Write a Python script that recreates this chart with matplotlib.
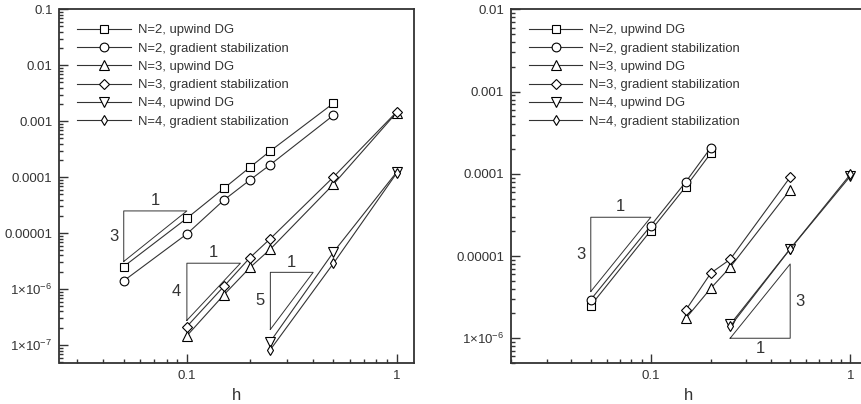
import numpy as np
import matplotlib
matplotlib.use("Agg")
import matplotlib.pyplot as plt
from matplotlib.ticker import FixedLocator, FuncFormatter, NullFormatter

plt.rcParams['font.family'] = ['Liberation Sans', 'DejaVu Sans']
plt.rcParams['mathtext.default'] = 'regular'

labels = ["N=2, upwind DG", "N=2, gradient stabilization",
          "N=3, upwind DG", "N=3, gradient stabilization",
          "N=4, upwind DG", "N=4, gradient stabilization"]

# --- left panel ---
h2_left = [0.05, 0.1, 0.15, 0.2, 0.25, 0.5]
h3_left = [0.1, 0.15, 0.2, 0.25, 0.5, 1.0]
h4_left = [0.25, 0.5, 1.0]
n2_up_left = [2.54e-6, 1.85e-5, 6.3e-5, 1.51e-4, 2.95e-4, 2.1e-3]
n2_gs_left = [1.41e-6, 9.7e-6, 3.9e-5, 8.95e-5, 1.68e-4, 1.28e-3]
n3_up_left = [1.47e-7, 7.9e-7, 2.44e-6, 5.2e-6, 7.5e-5, 1.43e-3]
n3_gs_left = [2.15e-7, 1.12e-6, 3.67e-6, 8.0e-6, 1.01e-4, 1.47e-3]
n4_up_left = [1.16e-7, 4.6e-6, 1.23e-4]
n4_gs_left = [8.3e-8, 2.9e-6, 1.18e-4]

# --- right panel ---
h2_right = [0.05, 0.1, 0.15, 0.2]
h3_right = [0.15, 0.2, 0.25, 0.5]
h4_right = [0.25, 0.5, 1.0]
n2_up_right = [2.5e-6, 2.04e-5, 7.0e-5, 1.78e-4]
n2_gs_right = [2.95e-6, 2.34e-5, 8.0e-5, 2.08e-4]
n3_up_right = [1.75e-6, 4.06e-6, 7.3e-6, 6.4e-5]
n3_gs_right = [2.21e-6, 6.2e-6, 9.1e-6, 9.1e-5]
n4_up_right = [1.47e-6, 1.22e-5, 9.3e-5]
n4_gs_right = [1.39e-6, 1.22e-5, 9.8e-5]

# slope triangles: (h_start, h_end, corner error, slope, upper?)
tri_left = [(0.05, 0.1, 2.5e-5, 3, True),
            (0.1, 0.18, 2.91e-6, 4, True),
            (0.25, 0.4, 2.0e-6, 5, True)]
tri_right = [(0.05, 0.1, 2.96e-5, 3, True),
             (0.25, 0.5, 1.0e-6, 3, False)]

markers = ['s', 'o', '^', 'D', 'v', 'd']
msizes = [5.8, 6.3, 7.2, 5.5, 7.2, 5.6]
ink = '#333333'


def ytick_fmt(v, pos):
    e = int(round(np.log10(v)))
    if e >= -5:
        return ('%.' + str(-e) + 'f') % v if e < 0 else '%g' % v
    return '1\u00d710$^{%d}$' % e


def decades(lo, hi, subs):
    out = []
    for e in range(int(np.floor(np.log10(lo))), int(np.ceil(np.log10(hi))) + 1):
        for s in subs:
            v = s * 10.0 ** e
            if lo <= v <= hi:
                out.append(v)
    return out


def draw_panel(ax, series, tris, xlim, ylim):
    for (h, e), m, ms, lab in zip(series, markers, msizes, labels):
        ax.plot(h, e, color=ink, lw=0.8, marker=m, ms=ms, mfc='white',
                mec='black', mew=0.8, label=lab)
    for h0, h1, ec, p, upper in tris:
        ratio = (h1 / h0) ** p
        if upper:
            xs = [h0, h0, h1, h0]
            ys = [ec / ratio, ec, ec, ec / ratio]
            ax.plot(xs, ys, color=ink, lw=0.7)
            ax.annotate('1', (np.sqrt(h0 * h1), ec), xytext=(0, 2),
                        textcoords='offset points', ha='center', va='bottom',
                        fontsize=12, color=ink)
            ax.annotate(str(p), (h0, ec / np.sqrt(ratio)), xytext=(-4, 0),
                        textcoords='offset points', ha='right', va='center',
                        fontsize=12, color=ink)
        else:
            xs = [h0, h1, h1, h0]
            ys = [ec, ec, ec * ratio, ec]
            ax.plot(xs, ys, color=ink, lw=0.7)
            ax.annotate('1', (np.sqrt(h0 * h1), ec), xytext=(0, -2),
                        textcoords='offset points', ha='center', va='top',
                        fontsize=12, color=ink)
            ax.annotate(str(p), (h1, ec * np.sqrt(ratio)), xytext=(4, 0),
                        textcoords='offset points', ha='left', va='center',
                        fontsize=12, color=ink)
    ax.set_xscale('log')
    ax.set_yscale('log')
    ax.set_xlim(*xlim)
    ax.set_ylim(*ylim)
    ax.xaxis.set_major_locator(FixedLocator(decades(*xlim, [1])))
    ax.xaxis.set_minor_locator(FixedLocator(decades(*xlim, range(2, 10))))
    ax.yaxis.set_major_locator(FixedLocator(decades(*ylim, [1])))
    ax.yaxis.set_minor_locator(FixedLocator(decades(*ylim, range(2, 10))))
    ax.xaxis.set_major_formatter(FuncFormatter(lambda v, p: '%g' % v))
    ax.xaxis.set_minor_formatter(NullFormatter())
    ax.yaxis.set_major_formatter(FuncFormatter(ytick_fmt))
    ax.yaxis.set_minor_formatter(NullFormatter())
    ax.tick_params(which='both', direction='in', color=ink, width=1.0,
                   labelsize=9.5, labelcolor=ink, top=False, right=False)
    ax.tick_params(which='major', length=6.2, pad=5)
    ax.tick_params(which='minor', length=3)
    for s in ax.spines.values():
        s.set_linewidth(1.3)
        s.set_color(ink)
    ax.set_xlabel('h', fontsize=12, color=ink, labelpad=4)
    ax.legend(loc='upper left', bbox_to_anchor=(0.05, 0.958), frameon=False,
              borderpad=0, borderaxespad=0, handlelength=4.1, handletextpad=0.55,
              labelspacing=0.47, fontsize=9.4, labelcolor=ink)


fig = plt.figure(figsize=(8.62, 4.04), dpi=100)
ax1 = fig.add_axes([59.5 / 862, 1 - 363 / 404, (414 - 59.5) / 862, (363 - 9.3) / 404])
ax2 = fig.add_axes([511 / 862, 1 - 363 / 404, (866 - 511) / 862, (363 - 9.3) / 404])

draw_panel(ax1,
           [(h2_left, n2_up_left), (h2_left, n2_gs_left),
            (h3_left, n3_up_left), (h3_left, n3_gs_left),
            (h4_left, n4_up_left), (h4_left, n4_gs_left)],
           tri_left, (0.0247, 1.21), (4.8e-8, 0.1))
draw_panel(ax2,
           [(h2_right, n2_up_right), (h2_right, n2_gs_right),
            (h3_right, n3_up_right), (h3_right, n3_gs_right),
            (h4_right, n4_up_right), (h4_right, n4_gs_right)],
           tri_right, (0.0199, 1.2), (5e-7, 0.01))

fig.savefig('out.png', dpi=100)
